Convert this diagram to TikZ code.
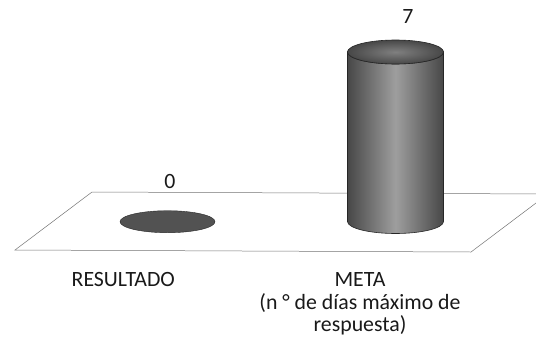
\documentclass[tikz,border=0pt]{standalone}
\usepackage{fontspec}
\setmainfont{Carlito}
\usetikzlibrary{positioning,calc}
\newcommand*{\cylbar}[5]{\draw[left color=black!72,right color=black!72,middle color=black!38,draw=black!85,line width=0.6pt]
    (#1-#4,#3) -- (#1-#4,#2) arc[start angle=180,end angle=360,x radius=#4,y radius=#5]
    -- (#1+#4,#3) arc[start angle=0,end angle=-180,x radius=#4,y radius=#5] -- cycle;
  \draw[inner color=black!50,outer color=black!72,draw=black!85,line width=0.6pt]
    (#1,#3) ellipse[x radius=#4,y radius=#5];
}

\begin{document}
\begin{tikzpicture}[x=1bp,y=1bp]
\tikzstyle{floor}=[draw=black!55,line width=0.5pt]
\tikzstyle{lbl}=[font=\fontsize{21.8bp}{22.7bp}\selectfont,inner sep=0pt,text=black!90]
\useasboundingbox (0,0) rectangle (536,343);
\coordinate (fl) at (15,93);
\coordinate (fr) at (471,91);
\coordinate (br) at (548,149);
\coordinate (bl) at (92,151);
\draw[floor] (fl) -- (fr) -- (br) -- (bl) -- cycle;

\draw[draw=black!85,fill=black!68] (167.5,121.3) ellipse[x radius=47.5,y radius=11];
\cylbar{395.5}{121.5}{291}{48}{12}

\node[lbl] (v0) at (170,162) {0};
\node[lbl] (v7) at (408,326) {7};
\node[lbl,anchor=base] (res) at (123.3,56.3) {RESULTADO};
\node[lbl,anchor=base,align=center] (meta) at (360,11.3) {META\\(n ° de días máximo de\\respuesta)};
\end{tikzpicture}
\end{document}
